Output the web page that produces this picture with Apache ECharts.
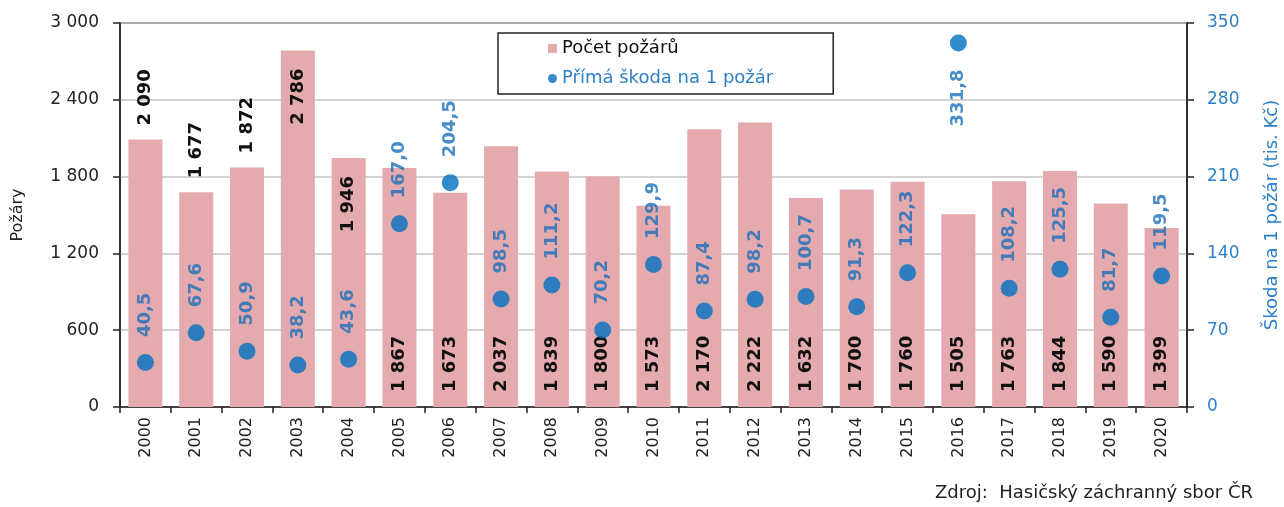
<!DOCTYPE html>
<html>
<head>
<meta charset="utf-8">
<script src="https://cdn.jsdelivr.net/npm/echarts@6/dist/echarts.min.js"></script>
<style>
  html, body { margin: 0; padding: 0; background: #fff; }
  #main { width: 1284px; height: 507px; }
</style>
</head>
<body>
<div id="main"></div>
<script>
// data
const years = ['2000', '2001', '2002', '2003', '2004', '2005', '2006', '2007', '2008', '2009', '2010',
  '2011', '2012', '2013', '2014', '2015', '2016', '2017', '2018', '2019', '2020']
const pozary = [2090, 1677, 1872, 2786, 1946, 1867, 1673, 2037, 1839, 1800, 1573,
  2170, 2222, 1632, 1700, 1760, 1505, 1763, 1844, 1590, 1399]
const skoda = [40.5, 67.6, 50.9, 38.2, 43.6, 167.0, 204.5, 98.5, 111.2, 70.2, 129.9,
  87.4, 98.2, 100.7, 91.3, 122.3, 331.8, 108.2, 125.5, 81.7, 119.5]
const leftTicks = { min: 0, max: 3000, interval: 600 }
const rightTicks = { min: 0, max: 350, interval: 70 }

const font = 'DejaVu Sans'
const barColor = '#e4aaae'
const dotColor = '#0070c0'
const blueText = '#2e80c8'
const dotText = '#1a6fba'

function thousands(v) {
  if (v < 1000) return String(v)
  return Math.floor(v / 1000) + ' ' + String(v % 1000).padStart(3, '0')
}

// bar labels: first years sit above / at top of bar, the rest at the bottom
function barLabel(i) {
  if (i <= 2) return { position: 'top', align: 'left', distance: 14 }
  if (i <= 4) return { position: 'insideTop', align: 'right', distance: 18 }
  return { position: 'insideBottom', align: 'left', distance: 15 }
}

const barData = pozary.map((v, i) => ({ value: v, label: barLabel(i) }))
const dotData = skoda.map((v, i) => (v > 300
  ? { value: v, label: { position: 'bottom', align: 'right', distance: 18 } }
  : { value: v }))

const chart = echarts.init(document.getElementById('main'))
chart.setOption({
  backgroundColor: '#fff',
  animation: false,
  textStyle: { fontFamily: font },
  title: {
    text: 'Zdroj:  Hasičský záchranný sbor ČR',
    right: 26,
    bottom: 0,
    textStyle: { fontFamily: font, fontSize: 18, fontWeight: 'normal', color: '#222' }
  },
  grid: {
    left: 120, right: 97, top: 23, bottom: 100,
    outerBoundsMode: 'none',
    containLabel: false,
    show: true, borderColor: '#222', borderWidth: 1.5
  },
  legend: {
    orient: 'vertical',
    left: 498,
    top: 33,
    padding: [5, 60, 5, 50],
    itemGap: 9,
    itemWidth: 9,
    itemHeight: 9,
    itemStyle: { borderWidth: 0 },
    backgroundColor: '#fff',
    borderColor: '#222',
    borderWidth: 1.5,
    textStyle: { fontFamily: font, fontSize: 18, lineHeight: 21, color: '#111' },
    data: [
      { name: 'Počet požárů', icon: 'rect' },
      { name: 'Přímá škoda na 1 požár', icon: 'circle', textStyle: { color: blueText } }
    ]
  },
  xAxis: {
    type: 'category',
    data: years,
    boundaryGap: true,
    axisLine: { lineStyle: { color: '#222', width: 1.5 } },
    axisTick: { show: true, interval: 0, length: 6, lineStyle: { color: '#222', width: 1.5 } },
    axisLabel: { rotate: 90, interval: 0, margin: 10, fontSize: 16, color: '#222', fontFamily: font }
  },
  yAxis: [{
    type: 'value',
    min: leftTicks.min, max: leftTicks.max, interval: leftTicks.interval,
    name: 'Požáry',
    nameLocation: 'middle',
    nameGap: 94,
    nameTextStyle: { fontSize: 16, color: '#222', fontFamily: font },
    axisLine: { show: true, lineStyle: { color: '#222', width: 1.5 } },
    axisTick: { show: true, length: 7, lineStyle: { color: '#222', width: 1.5 } },
    axisLabel: { margin: 21, fontSize: 17, color: '#222', fontFamily: font, formatter: thousands },
    splitLine: { lineStyle: { color: '#c4c4c4', width: 1.5 } }
  }, {
    type: 'value',
    min: rightTicks.min, max: rightTicks.max, interval: rightTicks.interval,
    name: 'Škoda na 1 požár (tis. Kč)',
    nameLocation: 'middle',
    nameGap: 76,
    nameRotate: 90,
    nameTextStyle: { fontSize: 18, color: blueText, fontFamily: font },
    axisLine: { show: true, lineStyle: { color: '#222', width: 1.5 } },
    axisTick: { show: true, length: 7, lineStyle: { color: '#222', width: 1.5 } },
    axisLabel: { margin: 20, fontSize: 17, color: blueText, fontFamily: font },
    splitLine: { show: false }
  }],
  series: [{
    name: 'Počet požárů',
    type: 'bar',
    barCategoryGap: '33%',
    itemStyle: { color: barColor },
    label: {
      show: true,
      rotate: 90,
      verticalAlign: 'middle',
      fontFamily: font,
      fontSize: 18,
      fontWeight: 'bold',
      color: '#111',
      formatter: p => thousands(p.value)
    },
    data: barData
  }, {
    name: 'Přímá škoda na 1 požár',
    type: 'scatter',
    yAxisIndex: 1,
    symbol: 'circle',
    symbolSize: 17,
    itemStyle: { color: dotColor },
    label: {
      show: true,
      position: 'top',
      rotate: 90,
      align: 'left',
      verticalAlign: 'middle',
      distance: 17,
      fontFamily: font,
      fontSize: 18,
      fontWeight: 'bold',
      color: dotText,
      formatter: p => p.value.toFixed(1).replace('.', ',')
    },
    data: dotData
  }]
})
</script>
</body>
</html>
